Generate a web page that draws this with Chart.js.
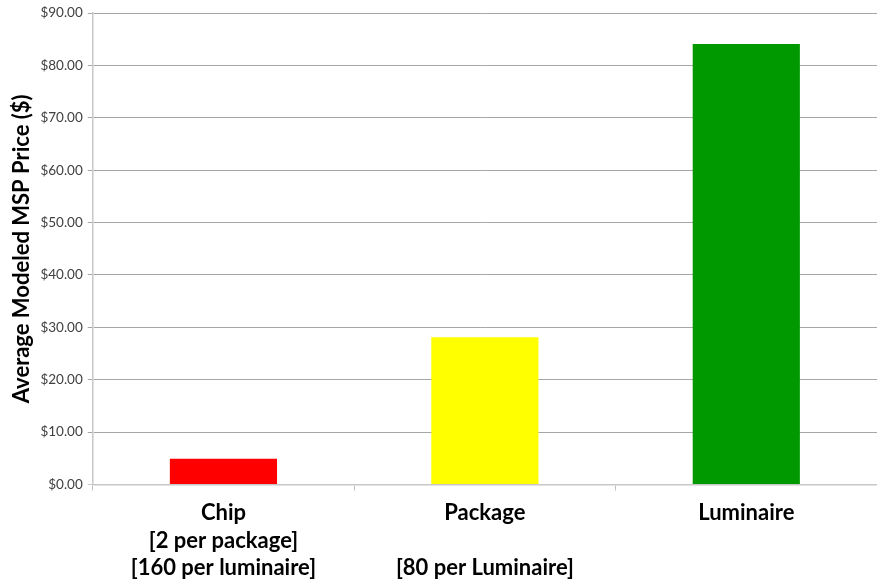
<!DOCTYPE html>
<html>
<head>
<meta charset="utf-8">
<script src="https://cdn.jsdelivr.net/npm/chart.js@4"></script>
<style>
  html, body { margin: 0; padding: 0; background: #fff; }
  #wrap { width: 877px; height: 581px; position: relative; }
</style>
</head>
<body>
<div id="wrap"><canvas id="mspChart"></canvas></div>
<script>
// categories and modeled prices
const categories = [
    ['Chip', '[2 per package]', '[160 per luminaire]'],
    ['Package', '', '[80 per Luminaire]'],
    ['Luminaire']
];
const prices = [4.9, 28.1, 84.1];
const barColors = ['#ff0000', '#ffff00', '#009900'];
const yTicks = [0, 10, 20, 30, 40, 50, 60, 70, 80, 90];

const fontFamily = 'Lato, "Open Sans", sans-serif';

const ctx = document.getElementById('mspChart').getContext('2d');
new Chart(ctx, {
    type: 'bar',
    data: {
        labels: categories,
        datasets: [{
            data: prices,
            backgroundColor: barColors,
            borderWidth: 0,
            categoryPercentage: 1.0,
            barPercentage: 0.41
        }]
    },
    options: {
        responsive: true,
        maintainAspectRatio: false,
        animation: false,
        layout: { padding: { top: 9, right: 0, left: 6, bottom: -10 } },
        plugins: {
            legend: { display: false },
            tooltip: { enabled: false }
        },
        scales: {
            x: {
                grid: {
                    offset: true,
                    drawOnChartArea: false,
                    color: '#c0c0c0',
                    tickLength: 6
                },
                border: { color: '#c8c8c8', width: 1.5 },
                ticks: {
                    color: '#000',
                    padding: 9,
                    maxRotation: 0,
                    autoSkip: false,
                    font: { family: fontFamily, size: 22, weight: 'bold', lineHeight: 1.25 }
                }
            },
            y: {
                min: 0,
                max: 90,
                afterBuildTicks: (axis) => {
                    axis.ticks = yTicks.map(v => ({ value: v }));
                },
                grid: {
                    color: (c) => c.tick && c.tick.value === 0 ? '#c8c8c8' : '#a6a6a6',
                    tickLength: 5
                },
                border: { color: '#c8c8c8', width: 1.5 },
                ticks: {
                    color: '#404040',
                    padding: 5,
                    font: { family: fontFamily, size: 13.5 },
                    callback: (v) => '$' + Number(v).toFixed(2)
                },
                title: {
                    display: true,
                    text: 'Average Modeled MSP Price ($)',
                    color: '#000',
                    padding: { top: 3, bottom: 0 },
                    font: { family: fontFamily, size: 22, weight: 'bold' }
                }
            }
        }
    }
});
</script>
</body>
</html>
